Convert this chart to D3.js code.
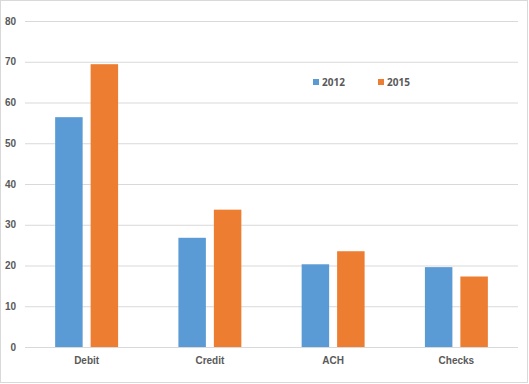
<!DOCTYPE html>
<html>
<head>
<meta charset="utf-8">
<script src="https://cdn.jsdelivr.net/npm/d3@7"></script>
<style>
  body { margin: 0; background: #fff; }
  svg { display: block; font-family: "Open Sans", "Liberation Sans", sans-serif; }
</style>
</head>
<body>
<div id="container"></div>
<script>
/* DATA */
const categories = ["Debit", "Credit", "ACH", "Checks"];
const seriesNames = ["2012", "2015"];
const values2012 = [56.4, 26.8, 20.3, 19.6];
const values2015 = [69.4, 33.7, 23.5, 17.3];
const yTicks = [0, 10, 20, 30, 40, 50, 60, 70, 80];

/* CONSTANTS */
const width = 529,
  height = 384,
  margin = { top: 21, bottom: 37, left: 25, right: 11 };
const colors = ["#5B9BD5", "#ED7D31"];

const data = categories.map((c, i) => ({ cat: c, vals: [values2012[i], values2015[i]] }));

/* SCALES */
const xScale = d3.scaleBand()
  .domain(categories)
  .range([margin.left, width - margin.right]);

// inner scale for the two years inside each category
const x1 = d3.scaleBand()
  .domain(seriesNames)
  .range([0, xScale.bandwidth()])
  .paddingInner(0.225)
  .paddingOuter(0.85);

const yScale = d3.scaleLinear()
  .domain([0, 80])
  .range([height - margin.bottom, margin.top]);

/* SVG */
const svg = d3.select("#container")
  .append("svg")
  .attr("width", width)
  .attr("height", height);

// outer chart border
svg.append("rect")
  .attr("x", 0.5).attr("y", 0.5)
  .attr("width", width - 2).attr("height", height - 2)
  .attr("fill", "#fff")
  .attr("stroke", "#d9d9d9");

// gridlines + y labels
const yAxis = d3.axisLeft(yScale)
  .tickValues(yTicks)
  .tickSize(-(width - margin.left - margin.right))
  .tickPadding(9);
svg.append("g")
  .attr("transform", `translate(${margin.left},0)`)
  .call(yAxis)
  .call(g => g.select(".domain").remove())
  .call(g => g.selectAll("line").attr("stroke", "#d9d9d9"))
  .call(g => g.selectAll("text").attr("fill", "#595959").attr("font-size", 10).attr("font-weight", 600));

// bars
const groups = svg.selectAll("g.cat")
  .data(data)
  .join("g")
  .attr("class", "cat")
  .attr("transform", d => `translate(${xScale(d.cat)},0)`);

groups.selectAll("rect")
  .data(d => d.vals.map((v, i) => ({ key: seriesNames[i], v, i })))
  .join("rect")
  .attr("x", d => x1(d.key))
  .attr("width", x1.bandwidth())
  .attr("y", d => yScale(d.v))
  .attr("height", d => yScale(0) - yScale(d.v))
  .attr("fill", d => colors[d.i]);

// x labels
const xAxis = d3.axisBottom(xScale).tickSize(0).tickPadding(10);
svg.append("g")
  .attr("transform", `translate(0,${height - margin.bottom})`)
  .call(xAxis)
  .call(g => g.select(".domain").remove())
  .call(g => g.selectAll("text").attr("fill", "#595959").attr("font-size", 10).attr("font-weight", 600));

// legend
const legendX = [313, 378];
const legend = svg.selectAll("g.legend")
  .data(seriesNames)
  .join("g")
  .attr("class", "legend")
  .attr("transform", (d, i) => `translate(${legendX[i]},79)`);
legend.append("rect")
  .attr("width", 6).attr("height", 6)
  .attr("fill", (d, i) => colors[i]);
legend.append("text")
  .attr("x", 9).attr("y", 3)
  .attr("dy", "0.35em")
  .attr("fill", "#595959")
  .attr("font-size", 10)
  .attr("font-weight", "bold")
  .text(d => d);
</script>
</body>
</html>
